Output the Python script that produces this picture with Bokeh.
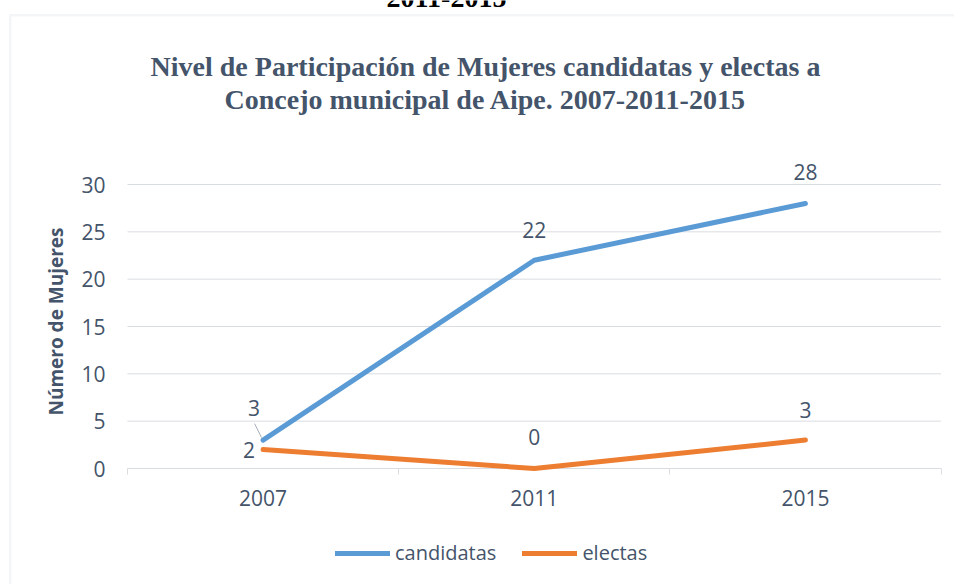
import math
from bokeh.plotting import figure
from bokeh.models import (Range1d, FixedTicker, Label, LabelSet, ColumnDataSource,
                          BoxAnnotation, Legend, LegendItem)
from bokeh.core.properties import value
from bokeh.embed import file_html
from bokeh.resources import INLINE

# ---- data ----
categories = ["2007", "2011", "2015"]
candidatas = [3, 22, 28]
electas = [2, 0, 3]
y_ticks = [0, 5, 10, 15, 20, 25, 30]
title_lines = ["Nivel de Participación de Mujeres candidatas y electas a",
               "Concejo municipal de Aipe. 2007-2011-2015"]
top_fragment = "2011-2015"
y_label = "Número de Mujeres"

# ---- styles / layout ----
BLUE = "#5B9BD5"
ORANGE = "#ED7D31"
TXT = "#44546A"
GRID = "#D9DCE1"
FONT = "Open Sans"
W, H = 954, 584
PLOT_L, PLOT_R = 127.0, 940.5      # pixel extent of the category bands
Y0_PX, Y30_PX = 468.0, 184.0       # pixel rows of 0 and 30
n = len(categories)
px_x = (PLOT_R - PLOT_L) / n
px_y = (Y0_PX - Y30_PX) / 30.0

xs = [i + 0.5 for i in range(n)]

p = figure(width=W, height=H,
           x_range=Range1d(-PLOT_L / px_x, n + (W - PLOT_R) / px_x),
           y_range=Range1d(-(H - Y0_PX) / px_y, 30 + Y30_PX / px_y),
           output_backend="svg", toolbar_location=None,
           min_border_left=0, min_border_right=0, min_border_top=0, min_border_bottom=0)
p.outline_line_color = None
p.background_fill_color = "white"
p.border_fill_color = "white"
p.xgrid.visible = False
p.ygrid.visible = False

# horizontal gridlines across the category bands
p.segment(x0=[0] * len(y_ticks), x1=[n] * len(y_ticks), y0=y_ticks, y1=y_ticks,
          line_color=GRID, line_width=1)

# y axis
p.yaxis.fixed_location = 0
p.yaxis.ticker = FixedTicker(ticks=y_ticks)
p.yaxis.axis_line_color = None
p.yaxis.major_tick_line_color = None
p.yaxis.minor_tick_line_color = None
p.yaxis.major_tick_out = 0
p.yaxis.major_tick_in = 0
p.yaxis.minor_tick_out = 0
p.yaxis.minor_tick_in = 0
p.yaxis.major_label_text_font = FONT
p.yaxis.major_label_text_font_size = "21px"
p.yaxis.major_label_text_color = TXT
p.yaxis.major_label_standoff = 22

# y axis title (placed as a rotated label, centred on the 0-30 band)
p.add_layout(Label(x=55, y=H - 321, x_units="screen", y_units="screen", text=y_label,
                   angle=math.pi / 2, text_align="center", text_baseline="middle",
                   text_font=FONT, text_font_size="19px", text_font_style="bold",
                   text_color=TXT))

# x axis
p.xaxis.fixed_location = 0
p.xaxis.ticker = FixedTicker(ticks=xs, minor_ticks=list(range(n + 1)))
p.xaxis.major_label_overrides = {x: c for x, c in zip(xs, categories)}
p.xaxis.axis_line_color = None
p.xaxis.major_tick_line_color = None
p.xaxis.major_tick_in = 0
p.xaxis.major_tick_out = 6
p.xaxis.minor_tick_line_color = GRID
p.xaxis.minor_tick_in = 0
p.xaxis.minor_tick_out = 6
p.xaxis.major_label_text_font = FONT
p.xaxis.major_label_text_font_size = "21px"
p.xaxis.major_label_text_color = TXT
p.xaxis.major_label_standoff = 15

# lines
r_c = p.line(xs, candidatas, line_color=BLUE, line_width=5, line_cap="round", line_join="round")
r_e = p.line(xs, electas, line_color=ORANGE, line_width=5, line_cap="round", line_join="round")

# leader line for the first candidatas label
p.segment(x0=[xs[0] - 8.5 / px_x], y0=[candidatas[0] + 16.5 / px_y],
          x1=[xs[0] - 1.5 / px_x], y1=[candidatas[0] + 2.5 / px_y],
          line_color="#A6AEBB", line_width=1)

# data labels
c_dx = [-9, 0, 0]
c_dy = [32, 30, 31]
e_dx = [-14, 0, 0]
e_dy = [0, 32, 30]
src_c = ColumnDataSource(dict(x=xs, y=candidatas, t=[str(v) for v in candidatas], dx=c_dx, dy=c_dy))
src_e = ColumnDataSource(dict(x=xs, y=electas, t=[str(v) for v in electas], dx=e_dx, dy=e_dy))
for src in (src_c, src_e):
    p.add_layout(LabelSet(x="x", y="y", text="t", source=src, x_offset="dx", y_offset="dy",
                          text_align="center", text_baseline="middle",
                          text_font=value(FONT), text_font_size=value("21px"),
                          text_color=TXT))

# titles (screen units: x from left, y from bottom of the canvas-wide frame)
for txt, ypos in zip(title_lines, (H - 66, H - 99)):
    p.add_layout(Label(x=485, y=ypos, x_units="screen", y_units="screen", text=txt,
                       text_align="center", text_baseline="alphabetic",
                       text_font="Liberation Serif", text_font_style="bold",
                       text_font_size="28px", text_color=TXT))
p.add_layout(Label(x=446, y=H + 3, x_units="screen", y_units="screen", text=top_fragment,
                   text_align="center", text_baseline="alphabetic",
                   text_font="Liberation Serif", text_font_style="bold",
                   text_font_size="28px", text_color="black"))

# chart area border
p.add_layout(BoxAnnotation(left=9.7, right=2000, top=H - 14.8, bottom=-100,
                           left_units="screen", right_units="screen",
                           top_units="screen", bottom_units="screen",
                           fill_alpha=0, line_color="#DCDFE3", line_width=2.5))

# legend
legend = Legend(items=[LegendItem(label="candidatas", renderers=[r_c]),
                       LegendItem(label="electas", renderers=[r_e])],
                orientation="horizontal", location=(335, 18),
                glyph_width=55, glyph_height=20, label_standoff=5, spacing=26,
                padding=0, margin=0, border_line_color=None, background_fill_alpha=0,
                label_text_font=FONT, label_text_font_size="20px", label_text_color=TXT)
p.add_layout(legend)

open("out.html", "w").write(file_html(p, INLINE))
